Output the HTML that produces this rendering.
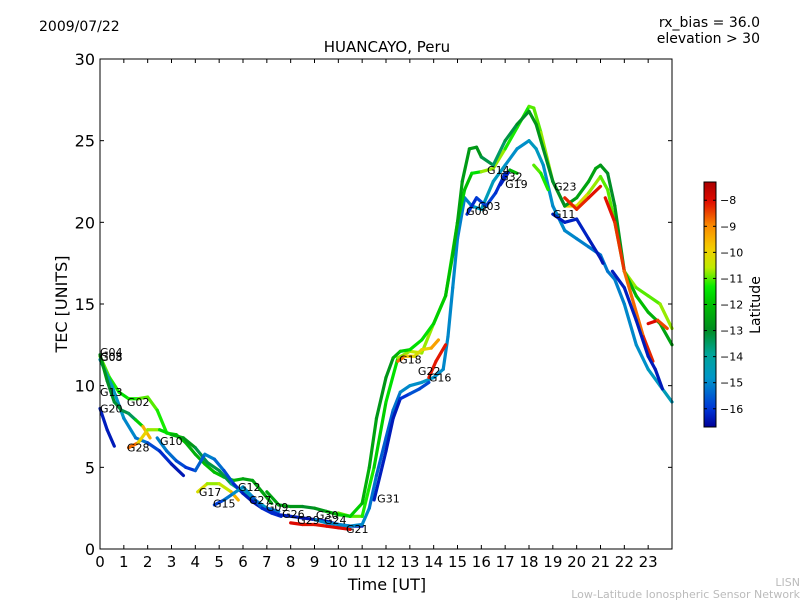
<!DOCTYPE html>
<html><head><meta charset="utf-8"><style>
body{margin:0;background:#fff;width:800px;height:600px;overflow:hidden}
svg{font-family:"DejaVu Sans","Liberation Sans",sans-serif}
</style></head><body>
<svg id="chart" width="800" height="600" viewBox="0 0 800 600" xmlns="http://www.w3.org/2000/svg">
<rect width="800" height="600" fill="#fff"/>
<text x="39" y="31" font-size="14">2009/07/22</text>
<text x="760" y="27" font-size="14" text-anchor="end">rx_bias = 36.0</text>
<text x="760" y="43" font-size="14" text-anchor="end">elevation &gt; 30</text>
<text x="387" y="52" font-size="15" text-anchor="middle">HUANCAYO, Peru</text>
<text x="387" y="590" font-size="16" text-anchor="middle">Time [UT]</text>
<text x="67" y="304" font-size="16" text-anchor="middle" transform="rotate(-90 67 304)">TEC [UNITS]</text>
<text x="800" y="586" font-size="11" fill="#bbb" text-anchor="end">LISN</text>
<text x="800" y="598" font-size="11" fill="#bbb" text-anchor="end">Low-Latitude Ionospheric Sensor Network</text>
<g id="plot"></g>
<g id="axes"></g>
<g id="cbar"></g>
</svg>
<script>
const xTicks=[0,1,2,3,4,5,6,7,8,9,10,11,12,13,14,15,16,17,18,19,20,21,22,23];
const yTicks=[0,5,10,15,20,25,30];
const cbTicks=[-8,-9,-10,-11,-12,-13,-14,-15,-16];
const latMin=-16.7, latMax=-7.3;
const t1=[0,0.4,0.8,1.2,1.6,2,2.4,2.8,3.2,3.6,4,4.4,4.8,5.2,5.6,6,6.4,6.8,7.2];
const v1=[11.8,10.5,9.6,9.2,9.2,9.3,8.5,7.1,7.0,6.5,5.8,5.2,4.7,4.4,4.2,4.3,4.2,3.5,2.8];
const l1=[-11,-11,-11.5,-11.5,-11,-11,-11,-11.5,-12,-12,-12.5,-12,-12,-12,-12,-12.5,-12.5,-12.5,-12.5];
const t2=[0,0.5,1,1.5,2,2.5,3,3.5];
const v2=[11.6,10,8,6.8,6.5,6,5.2,4.5];
const l2=[-14,-14.5,-15,-15,-15.5,-16,-16.3,-16.5];
const t3=[0,0.3,0.6];
const v3=[8.6,7.3,6.3];
const l3=[-16.3,-16.3,-16.4];
const t4=[0,0.3,0.6,0.9,1.2,1.5,1.8,2.1];
const v4=[11.9,10.3,9.0,8.5,8.3,7.9,7.5,6.8];
const l4=[-12.5,-13,-13,-13.2,-13.3,-13.5,-10,-9];
const t5=[1.2,1.6,2,2.5,3,3.5,4,4.5,5,5.5,6,6.5,7,7.5];
const v5=[6.2,6.5,7.3,7.3,7.0,6.8,6.2,5.3,4.8,4.0,3.5,3.0,2.5,2.3];
const l5=[-8,-9.5,-10.5,-11,-12,-12.5,-13,-13.5,-13,-13.5,-14,-14.5,-15,-15.5];
const t6=[2.4,2.8,3.2,3.6,4,4.4,4.8,5.2,5.6,6,6.4,6.8];
const v6=[6.8,6.0,5.4,5.0,4.8,5.8,5.5,4.8,4.0,3.4,2.9,2.5];
const l6=[-15,-15.2,-15.5,-16,-16,-15,-15.2,-15.5,-16,-16.3,-16.4,-16.5];
const t7=[4.1,4.5,5,5.5,5.8];
const v7=[3.5,4,4,3.5,3];
const l7=[-10,-10.5,-11,-10,-9];
const t8=[4.8,5.2,5.6,6,6.4,6.8,7.2,7.6];
const v8=[2.7,3,3.4,3.8,3.2,2.5,2.2,2.0];
const l8=[-16.3,-15.5,-15,-14.8,-15,-16,-16.3,-16];
const t9=[7,7.5,8,8.5,9,9.5,10,10.5,11];
const v9=[2.4,2.1,2.0,1.9,1.8,1.7,1.5,1.4,1.4];
const l9=[-16,-16.3,-16.3,-16.4,-16.5,-16.5,-16.3,-16.3,-16.4];
const t10=[8,8.5,9,9.5,10,10.5];
const v10=[1.6,1.5,1.5,1.4,1.3,1.2];
const l10=[-8,-8,-8.2,-8,-8,-8];
const t11=[7,7.5,8,8.5,9,9.5,10,10.5,11,11.3,11.6,12,12.3,12.6,13,13.5,14,14.5,14.8,15,15.2,15.5,15.8,16,16.5,17,17.5,18,18.3,18.6,19,19.5,20,20.5,20.8,21,21.3,21.6,22,22.5,23,23.5,24];
const v11=[3.5,2.7,2.6,2.6,2.5,2.3,2.1,2.0,2.8,5,8,10.5,11.7,12.1,12.2,12.8,13.8,15.5,18,20,22.5,24.5,24.6,24,23.5,25,26,26.8,26,24.5,22.5,21,21.5,22.5,23.3,23.5,23,21,17,15.5,14.5,13.8,12.5];
const l11=[-12.5,-12.5,-12.5,-13,-13,-12.5,-12,-11.5,-12,-12.5,-12.5,-13,-12.5,-12,-11.5,-11.5,-11.5,-12,-12,-12.5,-12.5,-12.8,-12.5,-13,-13.5,-13.5,-13,-13,-12.5,-13,-13,-13,-12.5,-12.5,-12.5,-12.5,-13,-13,-12.5,-12,-12,-12.5,-12.5];
const t12=[9,9.5,10,10.5,11,11.3,11.6,12,12.3,12.6,13,13.5,14,14.4,14.6,14.8,15,15.3,15.6,16,16.5,17,17.5,18,18.3,18.6,19,19.5,20,20.5,21,21.3,21.6,22,22.5,23,23.5,24];
const v12=[1.8,1.6,1.5,1.4,1.5,2.5,4.5,6.8,8.5,9.6,10,10.2,10.5,11,13,16,19,21.5,21,20.8,22.5,23.5,24.5,25,24.5,23.5,21,19.5,19,18.5,18,17,16.5,15,12.5,11,10,9];
const l12=[-15,-15,-15,-15,-15,-15,-15.5,-15.5,-15.5,-15,-15,-14.8,-14.8,-15,-15,-15,-15,-15.2,-15,-14.5,-14.5,-14.8,-15,-14.8,-14.5,-14.8,-15,-15,-15,-15.2,-15.2,-15.2,-15.2,-15,-15,-14.8,-14.5,-14.5];
const t13=[10,10.5,11,11.5,12,12.5,13,13.5,14,14.5,15,15.3,15.6,16,16.5,17,17.5,18,18.2,18.5,19,19.5,20,20.5,21,21.3,21.6,22,22.5,23,23.5,24];
const v13=[2.2,2.0,2,5,9,11.7,12.1,12,13.8,15.5,20,22,23,23.1,23.3,24.5,25.8,27.1,27,25.5,22.5,21,21,21.8,22.8,22,20,17,16,15.5,15,13.5];
const l13=[-11,-11,-11,-11.5,-12,-11,-10.5,-10.5,-11,-11,-11.5,-12,-12,-11,-10.5,-11,-11.5,-11,-11,-11,-10.5,-10,-10,-10.5,-11,-11,-11,-10.5,-11,-11,-11,-10.5];
const t14=[11.5,12,12.3,12.6,13,13.4,13.8];
const v14=[3,6,8,9.2,9.5,9.8,10.2];
const l14=[-16.3,-16.3,-16.4,-16.3,-15.8,-15.5,-16];
const t15=[13.8,14.1,14.5];
const v15=[10.5,11.5,12.5];
const l15=[-8,-8.3,-8];
const t16=[12.5,12.8,13.2,13.5,13.9,14.2];
const v16=[11.5,11.8,11.8,12.2,12.3,12.8];
const l16=[-8,-9.5,-10,-10.5,-9.5,-9];
const t17=[15.4,15.8,16.2,16.6,17];
const v17=[20.5,21.5,21,21.8,23];
const l17=[-16.3,-16,-15.8,-16,-16.2];
const t18=[16.8,17.2,17.5];
const v18=[22.3,23.2,23.0];
const l18=[-16.3,-16.2,-8];
const t19=[19,19.5,20,20.5,21,21.1];
const v19=[20.5,20,20.2,19,17.8,17.5];
const l19=[-16.3,-16.3,-16.2,-16.3,-16.4,-16.4];
const t20=[19.5,20,20.5,21];
const v20=[21.5,20.8,21.5,22.2];
const l20=[-8,-8.5,-8,-8.2];
const t21=[21.2,21.6,22,22.4,22.8,23.2];
const v21=[21.5,20,17,15,13,11.5];
const l21=[-8,-8.2,-8.5,-9,-8.5,-8];
const t22=[21.5,22,22.5,23,23.3,23.6];
const v22=[17,16,14,11.8,11,9.8];
const l22=[-16.3,-16.3,-16.3,-16.4,-16.3,-16.4];
const t23=[18.2,18.5,18.8];
const v23=[23.5,23,22];
const l23=[-11,-11,-11.5];
const t24=[23,23.4,23.8];
const v24=[13.8,14,13.5];
const l24=[-8,-8,-9];
const tracks=[[t1,v1,l1],[t2,v2,l2],[t3,v3,l3],[t4,v4,l4],[t5,v5,l5],[t6,v6,l6],[t7,v7,l7],[t8,v8,l8],[t9,v9,l9],[t10,v10,l10],[t12,v12,l12],[t13,v13,l13],[t11,v11,l11],[t14,v14,l14],[t15,v15,l15],[t16,v16,l16],[t17,v17,l17],[t18,v18,l18],[t19,v19,l19],[t20,v20,l20],[t21,v21,l21],[t22,v22,l22],[t23,v23,l23],[t24,v24,l24]];
const prnNames=["G04","G05","G08","G13","G20","G02","G28","G10","G17","G15","G12","G27","G09","G26","G29","G30","G24","G21","G31","G18","G22","G16","G14","G32","G19","G03","G06","G23","G11"];
const prnT=[0,0,0,0,0,1.13,1.13,2.52,4.15,4.74,5.79,6.25,6.96,7.64,8.27,9.06,9.4,10.32,11.63,12.55,13.34,13.8,16.24,16.79,17.0,15.86,15.36,19.05,19.0];
const prnV=[12.06,11.8,11.75,9.6,8.6,9.0,6.2,6.6,3.5,2.8,3.8,3.0,2.56,2.14,1.78,2.08,1.78,1.23,3.1,11.6,10.9,10.5,23.2,22.8,22.35,21.0,20.7,22.2,20.5];

const X0=100,X1=672,Y0=549,Y1=59;
const xs=t=>X0+t*(X1-X0)/24;
const ys=v=>Y0-v*(Y0-Y1)/30;
const NS="http://www.w3.org/2000/svg";
function mk(tag,attrs,parent){const e=document.createElementNS(NS,tag);for(const k in attrs)e.setAttribute(k,attrs[k]);parent.appendChild(e);return e;}
// custom colormap stops (fraction, r,g,b)
const CM=[[0,0,0,150],[0.07,0,50,215],[0.2,0,150,200],[0.3,0,165,150],[0.4,0,140,30],[0.5,0,190,0],[0.57,0,235,0],[0.65,190,235,0],[0.73,245,205,0],[0.82,250,140,0],[0.92,225,10,0],[1,170,0,0]];
function cmap(f){f=Math.max(0,Math.min(1,f));
 for(let i=0;i<CM.length-1;i++){const a=CM[i],b=CM[i+1];
  if(f<=b[0]){const u=(f-a[0])/(b[0]-a[0]);
   return `rgb(${Math.round(a[1]+u*(b[1]-a[1]))},${Math.round(a[2]+u*(b[2]-a[2]))},${Math.round(a[3]+u*(b[3]-a[3]))})`;}}
 return 'rgb(170,0,0)';}
const latColor=l=>cmap((l-latMin)/(latMax-latMin));
const plot=document.getElementById('plot');
tracks.forEach((tr,i)=>{
 const [T,V,L]=tr;
 const g=mk('g',{},plot);
 
 
 for(let k=0;k<T.length-1;k++){
  const s=mk('line',{x1:xs(T[k]),y1:ys(V[k]),x2:xs(T[k+1]),y2:ys(V[k+1]),stroke:latColor((L[k]+L[k+1])/2),'stroke-width':3.2,'stroke-linecap':'round'},g);
  
  
 }
});
prnNames.forEach((n,i)=>{
 const t=mk('text',{x:xs(prnT[i]),y:ys(prnV[i])+4,'font-size':11},plot);
 t.textContent=n;
 
 
});
const axes=document.getElementById('axes');
mk('rect',{x:X0,y:Y1,width:X1-X0,height:Y0-Y1,fill:'none',stroke:'#000','stroke-width':1},axes);
xTicks.forEach(t=>{
 const x=xs(t);
 mk('line',{x1:x,y1:Y0,x2:x,y2:Y0-4,stroke:'#000'},axes);
 mk('line',{x1:x,y1:Y1,x2:x,y2:Y1+4,stroke:'#000'},axes);
 const lb=mk('text',{x:x,y:Y0+18,'font-size':15,'text-anchor':'middle'},axes);
 lb.textContent=t;
 
 
});
yTicks.forEach(v=>{
 const y=ys(v);
 mk('line',{x1:X0,y1:y,x2:X0+4,y2:y,stroke:'#000'},axes);
 mk('line',{x1:X1,y1:y,x2:X1-4,y2:y,stroke:'#000'},axes);
 const lb=mk('text',{x:X0-5,y:y+6,'font-size':16,'text-anchor':'end'},axes);
 lb.textContent=v;
 
 
});
const cb=document.getElementById('cbar');
const CX=704,CW=12,CT=182,CB=427;
const defs=mk('defs',{},cb);
const gr=mk('linearGradient',{id:'cmg',x1:0,y1:1,x2:0,y2:0},defs);
for(let i=0;i<=40;i++)mk('stop',{offset:i/40,'stop-color':cmap(i/40)},gr);
const cr=mk('rect',{x:CX,y:CT,width:CW,height:CB-CT,fill:'url(#cmg)',stroke:'#000','stroke-width':1},cb);


const cy=l=>CB-(l-latMin)/(latMax-latMin)*(CB-CT);
cbTicks.forEach(l=>{
 const y=cy(l);
 mk('line',{x1:CX,y1:y,x2:CX+3,y2:y,stroke:'#000'},cb);
 mk('line',{x1:CX+CW,y1:y,x2:CX+CW-3,y2:y,stroke:'#000'},cb);
 const lb=mk('text',{x:CX+CW+4,y:y+4,'font-size':11},cb);
 lb.textContent='\u2212'+Math.abs(l);
 
 
});
const ct=mk('text',{x:760,y:305,'font-size':14,'text-anchor':'middle',transform:'rotate(-90 760 305)'},cb);
ct.textContent='Latitude';


</script>
</body></html>
